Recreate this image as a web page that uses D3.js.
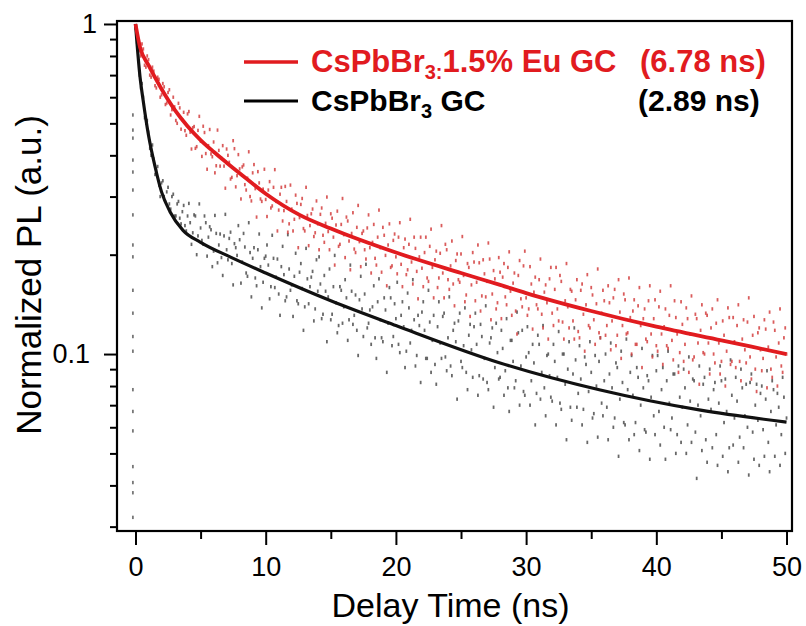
<!DOCTYPE html>
<html>
<head>
<meta charset="utf-8">
<script src="https://cdn.jsdelivr.net/npm/d3@7"></script>
<style>
  body { margin: 0; background: #fff; }
  svg { display: block; font-family: "Liberation Sans", Arial, sans-serif; }
</style>
</head>
<body>
<svg id="chart" width="806" height="626"></svg>
<script>
// time grid of the measured decays (ns): channel A at 0, 0.2, 0.4 ... channel B at 0.1, 0.3 ...
const tStep = 0.2, tStartA = 0, tStartB = 0.1;

// CsPbBr3:1.5% Eu GC, measured PL (normalized)
const euPL_A = [
  0.98, 0.90, 0.80, 0.84, 0.74, 0.78, 0.69, 0.72, 0.64, 0.68, 0.61,
  0.645, 0.576, 0.632, 0.55, 0.561, 0.50, 0.557, 0.513, 0.475, 0.534,
  0.47, 0.485, 0.42, 0.476, 0.441, 0.49, 0.405, 0.428, 0.404, 0.439,
  0.372, 0.414, 0.392, 0.371, 0.418, 0.381, 0.343, 0.419, 0.347, 0.364,
  0.369, 0.326, 0.341, 0.30, 0.354, 0.317, 0.357, 0.295, 0.316, 0.294,
  0.314, 0.277, 0.32, 0.29, 0.273, 0.32, 0.272, 0.29, 0.248, 0.275,
  0.256, 0.286, 0.259, 0.296, 0.236, 0.263, 0.245, 0.275, 0.233, 0.248,
  0.265, 0.229, 0.249, 0.235, 0.266, 0.226, 0.246, 0.212, 0.247, 0.23,
  0.26, 0.22, 0.232, 0.208, 0.242, 0.219, 0.232, 0.207, 0.241, 0.21,
  0.218, 0.195, 0.226, 0.21, 0.242, 0.199, 0.214, 0.183, 0.221, 0.197,
  0.226, 0.187, 0.21, 0.174, 0.215, 0.19, 0.226, 0.178, 0.197, 0.182,
  0.203, 0.17, 0.212, 0.183, 0.193, 0.159, 0.202, 0.176, 0.215, 0.168,
  0.185, 0.163, 0.192, 0.168, 0.201, 0.173, 0.151, 0.183, 0.162, 0.19,
  0.165, 0.189, 0.15, 0.175, 0.166, 0.194, 0.152, 0.169, 0.143, 0.177,
  0.171, 0.149, 0.183, 0.155, 0.164, 0.135, 0.173, 0.147, 0.185, 0.148,
  0.137, 0.163, 0.154, 0.141, 0.168, 0.132, 0.154, 0.143, 0.169, 0.133,
  0.157, 0.137, 0.173, 0.125, 0.145, 0.139, 0.157, 0.126, 0.146, 0.117,
  0.156, 0.132, 0.141, 0.122, 0.159, 0.127, 0.142, 0.116, 0.133, 0.145,
  0.122, 0.143, 0.126, 0.157, 0.114, 0.134, 0.122, 0.146, 0.116, 0.129,
  0.135, 0.107, 0.14, 0.122, 0.128, 0.111, 0.145, 0.115, 0.128, 0.106,
  0.139, 0.115, 0.121, 0.106, 0.131, 0.11, 0.145, 0.115, 0.101, 0.123,
  0.107, 0.128, 0.115, 0.096, 0.132, 0.108, 0.118, 0.101, 0.133, 0.108,
  0.12, 0.1, 0.124, 0.108, 0.095, 0.114, 0.102, 0.129, 0.095, 0.109,
  0.122, 0.095, 0.111, 0.103, 0.125, 0.098, 0.114, 0.09, 0.116, 0.103,
  0.097, 0.119, 0.105, 0.09, 0.125, 0.098, 0.108, 0.092, 0.112, 0.1
];
const euPL_B = [
  0.93, 0.83, 0.87, 0.75, 0.80, 0.70, 0.74, 0.65, 0.69, 0.60,
  0.66, 0.57, 0.62, 0.53, 0.60, 0.51, 0.575, 0.48, 0.54, 0.46,
  0.543, 0.418, 0.489, 0.425, 0.525, 0.397, 0.469, 0.363, 0.479, 0.396,
  0.354, 0.477, 0.371, 0.428, 0.318, 0.40, 0.339, 0.443, 0.321, 0.402,
  0.295, 0.374, 0.314, 0.41, 0.291, 0.375, 0.26, 0.33, 0.29, 0.363,
  0.261, 0.333, 0.281, 0.362, 0.236, 0.305, 0.253, 0.322, 0.234, 0.325,
  0.236, 0.303, 0.21, 0.284, 0.24, 0.32, 0.213, 0.266, 0.227, 0.291,
  0.207, 0.277, 0.218, 0.299, 0.207, 0.258, 0.186, 0.271, 0.215, 0.296,
  0.196, 0.253, 0.18, 0.268, 0.203, 0.282, 0.184, 0.236, 0.194, 0.264,
  0.176, 0.247, 0.186, 0.273, 0.177, 0.229, 0.161, 0.248, 0.185, 0.231,
  0.175, 0.25, 0.16, 0.223, 0.18, 0.256, 0.163, 0.209, 0.147, 0.226,
  0.16, 0.226, 0.166, 0.239, 0.148, 0.205, 0.17, 0.245, 0.148, 0.207,
  0.157, 0.22, 0.14, 0.201, 0.165, 0.227, 0.144, 0.188, 0.13, 0.203,
  0.145, 0.214, 0.135, 0.193, 0.149, 0.217, 0.127, 0.179, 0.137, 0.196,
  0.128, 0.188, 0.141, 0.204, 0.131, 0.176, 0.115, 0.192, 0.139, 0.205,
  0.131, 0.184, 0.119, 0.171, 0.137, 0.194, 0.12, 0.162, 0.111, 0.183,
  0.122, 0.183, 0.126, 0.166, 0.111, 0.188, 0.12, 0.155, 0.111, 0.168,
  0.112, 0.163, 0.102, 0.174, 0.12, 0.151, 0.107, 0.181, 0.112, 0.156,
  0.114, 0.161, 0.103, 0.148, 0.106, 0.168, 0.097, 0.152, 0.115, 0.17,
  0.10, 0.146, 0.107, 0.159, 0.091, 0.137, 0.109, 0.161, 0.098, 0.146,
  0.102, 0.155, 0.093, 0.137, 0.104, 0.161, 0.096, 0.129, 0.088, 0.144,
  0.095, 0.138, 0.088, 0.15, 0.098, 0.128, 0.081, 0.141, 0.1, 0.131,
  0.087, 0.137, 0.094, 0.146, 0.087, 0.126, 0.08, 0.138, 0.093, 0.129,
  0.091, 0.141, 0.083, 0.127, 0.094, 0.148, 0.084, 0.13, 0.077, 0.12,
  0.089, 0.127, 0.079, 0.134, 0.085, 0.118, 0.08, 0.137, 0.088, 0.12
];

// CsPbBr3 GC, measured PL (normalized)
const pristinePL_A = [
  0.97, 0.80, 0.64, 0.60, 0.50, 0.47, 0.40, 0.39, 0.36, 0.325, 0.33,
  0.30, 0.31, 0.285, 0.30, 0.262, 0.285, 0.258, 0.27, 0.245, 0.262,
  0.25, 0.233, 0.262, 0.228, 0.241, 0.215, 0.25, 0.226, 0.238, 0.205,
  0.232, 0.214, 0.196, 0.228, 0.207, 0.224, 0.188, 0.216, 0.199, 0.222,
  0.19, 0.211, 0.172, 0.203, 0.195, 0.17, 0.207, 0.184, 0.165, 0.198,
  0.186, 0.16, 0.195, 0.171, 0.152, 0.184, 0.174, 0.149, 0.181, 0.162,
  0.172, 0.145, 0.177, 0.158, 0.139, 0.169, 0.16, 0.178, 0.137, 0.155,
  0.163, 0.132, 0.155, 0.149, 0.127, 0.16, 0.143, 0.122, 0.156, 0.139,
  0.148, 0.127, 0.155, 0.131, 0.118, 0.146, 0.137, 0.152, 0.12, 0.136,
  0.139, 0.112, 0.144, 0.127, 0.109, 0.136, 0.124, 0.148, 0.113, 0.128,
  0.107, 0.131, 0.121, 0.102, 0.138, 0.118, 0.127, 0.099, 0.122, 0.134,
  0.118, 0.097, 0.125, 0.11, 0.093, 0.121, 0.108, 0.13, 0.098, 0.112,
  0.092, 0.118, 0.109, 0.126, 0.095, 0.106, 0.088, 0.114, 0.103, 0.121,
  0.107, 0.086, 0.113, 0.097, 0.082, 0.108, 0.12, 0.091, 0.101, 0.085,
  0.104, 0.089, 0.079, 0.11, 0.095, 0.083, 0.116, 0.092, 0.077, 0.098,
  0.101, 0.083, 0.094, 0.076, 0.107, 0.088, 0.079, 0.099, 0.086, 0.072,
  0.095, 0.085, 0.071, 0.1, 0.081, 0.09, 0.069, 0.087, 0.096, 0.076,
  0.084, 0.068, 0.093, 0.077, 0.088, 0.066, 0.08, 0.095, 0.071, 0.083,
  0.069, 0.087, 0.079, 0.064, 0.091, 0.073, 0.082, 0.061, 0.078, 0.088,
  0.075, 0.062, 0.085, 0.07, 0.079, 0.058, 0.083, 0.074, 0.065, 0.089,
  0.067, 0.078, 0.06, 0.083, 0.071, 0.064, 0.087, 0.057, 0.074, 0.069,
  0.079, 0.061, 0.072, 0.084, 0.058, 0.07, 0.065, 0.081, 0.055, 0.073,
  0.068, 0.078, 0.057, 0.071, 0.083, 0.062, 0.067, 0.052, 0.075, 0.064,
  0.072, 0.056, 0.079, 0.065, 0.06, 0.082, 0.058, 0.07, 0.063, 0.076,
  0.059, 0.073, 0.054, 0.067, 0.078, 0.061, 0.069, 0.057, 0.074, 0.064
];
const pristinePL_B = [
  0.88, 0.70, 0.66, 0.52, 0.51, 0.42, 0.43, 0.35, 0.37, 0.30,
  0.335, 0.29, 0.32, 0.275, 0.305, 0.262, 0.29, 0.248, 0.282, 0.236,
  0.286, 0.215, 0.264, 0.20, 0.285, 0.221, 0.262, 0.198, 0.243, 0.184,
  0.263, 0.189, 0.231, 0.173, 0.265, 0.193, 0.234, 0.162, 0.21, 0.245,
  0.164, 0.232, 0.176, 0.25, 0.149, 0.21, 0.161, 0.231, 0.138, 0.195,
  0.214, 0.147, 0.229, 0.159, 0.194, 0.131, 0.212, 0.145, 0.23, 0.156,
  0.13, 0.202, 0.142, 0.188, 0.118, 0.209, 0.142, 0.171, 0.126, 0.193,
  0.197, 0.128, 0.173, 0.109, 0.181, 0.132, 0.199, 0.116, 0.16, 0.124,
  0.168, 0.11, 0.186, 0.123, 0.151, 0.099, 0.172, 0.113, 0.187, 0.124,
  0.107, 0.161, 0.097, 0.169, 0.112, 0.148, 0.088, 0.159, 0.106, 0.142,
  0.165, 0.101, 0.144, 0.091, 0.153, 0.108, 0.168, 0.092, 0.131, 0.082,
  0.144, 0.097, 0.156, 0.088, 0.131, 0.081, 0.144, 0.097, 0.133, 0.089,
  0.149, 0.086, 0.124, 0.073, 0.133, 0.091, 0.138, 0.078, 0.123, 0.085,
  0.133, 0.075, 0.123, 0.084, 0.14, 0.078, 0.112, 0.069, 0.124, 0.084,
  0.118, 0.075, 0.128, 0.067, 0.11, 0.079, 0.134, 0.07, 0.118, 0.075,
  0.121, 0.07, 0.107, 0.061, 0.114, 0.073, 0.122, 0.065, 0.10, 0.074,
  0.107, 0.061, 0.117, 0.068, 0.10, 0.055, 0.109, 0.063, 0.12, 0.069,
  0.106, 0.061, 0.098, 0.054, 0.109, 0.064, 0.099, 0.056, 0.112, 0.065,
  0.10, 0.055, 0.108, 0.06, 0.094, 0.049, 0.102, 0.062, 0.111, 0.055,
  0.099, 0.057, 0.091, 0.051, 0.104, 0.059, 0.086, 0.048, 0.099, 0.057,
  0.099, 0.053, 0.091, 0.048, 0.102, 0.059, 0.087, 0.05, 0.092, 0.054,
  0.09, 0.05, 0.098, 0.054, 0.083, 0.042, 0.092, 0.051, 0.085, 0.047,
  0.09, 0.052, 0.082, 0.046, 0.092, 0.049, 0.084, 0.044, 0.096, 0.053,
  0.085, 0.047, 0.09, 0.052, 0.081, 0.043, 0.087, 0.048, 0.081, 0.046,
  0.08, 0.049, 0.089, 0.044, 0.083, 0.049, 0.076, 0.046, 0.085, 0.05
];

// rising edge just before t = 0
const riseTime = -0.2;
const risePL = [0.53, 0.477, 0.451, 0.387, 0.356, 0.314, 0.264, 0.214, 0.197, 0.156,
  0.133, 0.113, 0.102, 0.078, 0.067, 0.0585, 0.0456, 0.0408, 0.038, 0.032];

// fitted decays
const euFitT = [0, 0.35, 1, 2, 3, 4, 5, 6, 7, 8, 10, 12.6, 15, 20, 25, 28, 30, 35, 40, 45, 50];
const euFitPL = [1.0, 0.85, 0.75, 0.635, 0.55, 0.49, 0.445, 0.41, 0.38, 0.353, 0.306, 0.264,
  0.24, 0.203, 0.176, 0.162, 0.153, 0.135, 0.121, 0.11, 0.1];
const pristineFitT = [0, 0.35, 0.58, 1, 1.5, 2, 2.65, 3.65, 5, 7.26, 10, 15, 20, 28, 35.7, 43.4, 50];
const pristineFitPL = [1.0, 0.69, 0.59, 0.46, 0.37, 0.31, 0.27, 0.237, 0.218, 0.197, 0.176,
  0.145, 0.122, 0.094, 0.0778, 0.0676, 0.0622];

// axis ticks
const xMajor = [0, 10, 20, 30, 40, 50];
const xMinor = [5, 15, 25, 35, 45];
const yMajor = [1, 0.1];
const yMinor = [0.9, 0.8, 0.7, 0.6, 0.5, 0.4, 0.3, 0.2, 0.09, 0.08, 0.07, 0.06, 0.05, 0.04, 0.03];

const red = "#e11b1f";

var svg = d3.select("#chart");
var plotL = 117, plotR = 792, plotT = 21, plotB = 531;

var x = d3.scaleLinear().domain([-1.42, 50.42]).range([plotL, plotR]);
var y = d3.scaleLog().domain([0.0291, 1.021]).range([plotB, plotT]);

function toPoints(vals, t0) {
  return vals.map(function (v, i) { return { t: t0 + i * tStep, v: v }; });
}
function zip(ts, vs) {
  return ts.map(function (t, i) { return { t: t, v: vs[i] }; });
}

// scatter of measured points (small vertical dashes, like the instrument export)
function drawDots(pts, color, op) {
  svg.append("g")
    .selectAll("rect")
    .data(pts)
    .enter()
    .append("rect")
    .attr("x", function (d) { return x(d.t) - 0.9; })
    .attr("y", function (d) { return y(d.v) - 1.7; })
    .attr("width", 1.8)
    .attr("height", 3.4)
    .attr("fill", color)
    .attr("opacity", op);
}
drawDots(risePL.map(function (v) { return { t: riseTime, v: v }; }), "#555", 0.8);
drawDots(toPoints(pristinePL_A, tStartA).concat(toPoints(pristinePL_B, tStartB)), "#4d4d4d", 0.85);
drawDots(toPoints(euPL_A, tStartA).concat(toPoints(euPL_B, tStartB)), "#d43f3f", 0.85);

// fit lines
var line = d3.line()
  .x(function (d) { return x(d.t); })
  .y(function (d) { return y(d.v); })
  .curve(d3.curveMonotoneX);

svg.append("path")
  .datum(zip(pristineFitT, pristineFitPL))
  .attr("d", line)
  .attr("fill", "none")
  .attr("stroke", "#111")
  .attr("stroke-width", 3.2);

svg.append("path")
  .datum(zip(euFitT, euFitPL))
  .attr("d", line)
  .attr("fill", "none")
  .attr("stroke", red)
  .attr("stroke-width", 3.8);

// axes
function styleAxis(g) {
  g.select(".domain").remove();
  g.selectAll("line").attr("stroke", "#000").attr("stroke-width", 2);
  g.selectAll("text").attr("fill", "#000").style("font-family", "'Liberation Sans', Arial, sans-serif");
}

svg.append("g")
  .attr("transform", "translate(0," + plotB + ")")
  .call(d3.axisBottom(x).tickValues(xMajor).tickSize(14).tickPadding(12).tickFormat(d3.format("d")))
  .call(styleAxis)
  .selectAll("text").style("font-size", "27px");

svg.append("g")
  .attr("transform", "translate(0," + plotB + ")")
  .call(d3.axisBottom(x).tickValues(xMinor).tickSize(8).tickFormat(""))
  .call(styleAxis);

svg.append("g")
  .attr("transform", "translate(" + plotL + ",0)")
  .call(d3.axisLeft(y).tickValues(yMajor).tickSize(13).tickPadding(14).tickFormat(function (d) { return d === 1 ? "1" : "0.1"; }))
  .call(styleAxis)
  .selectAll("text")
  .style("font-size", "27px")
  .attr("dx", function (d) { return d === 1 ? 7 : 0; });

svg.append("g")
  .attr("transform", "translate(" + plotL + ",0)")
  .call(d3.axisLeft(y).tickValues(yMinor).tickSize(7).tickFormat(""))
  .call(styleAxis);

// frame
svg.append("rect")
  .attr("x", plotL).attr("y", plotT)
  .attr("width", plotR - plotL).attr("height", plotB - plotT)
  .attr("fill", "none").attr("stroke", "#000").attr("stroke-width", 2.2);

// axis titles
svg.append("text")
  .attr("x", (plotL + plotR) / 2 - 4)
  .attr("y", 617)
  .attr("text-anchor", "middle")
  .style("font-size", "34px")
  .text("Delay Time (ns)");

svg.append("text")
  .attr("transform", "translate(41,275) rotate(-90)")
  .attr("text-anchor", "middle")
  .style("font-size", "35px")
  .text("Normalized PL (a.u.)");

// legend
var legend = svg.append("g").style("font-weight", "bold");

legend.append("line")
  .attr("x1", 244).attr("x2", 298).attr("y1", 62).attr("y2", 62)
  .attr("stroke", red).attr("stroke-width", 3.5);
var t1 = legend.append("text").attr("x", 311).attr("y", 72).attr("fill", red).style("font-size", "31px");
t1.append("tspan").text("CsPbBr");
t1.append("tspan").attr("dy", 7).style("font-size", "20px").text("3:");
t1.append("tspan").attr("dy", -7).text("1.5% Eu GC");
legend.append("text").attr("x", 640).attr("y", 72).attr("fill", red).style("font-size", "31px").text("(6.78 ns)");

legend.append("line")
  .attr("x1", 244).attr("x2", 298).attr("y1", 101).attr("y2", 101)
  .attr("stroke", "#000").attr("stroke-width", 3);
var t2 = legend.append("text").attr("x", 311).attr("y", 111).attr("fill", "#000").style("font-size", "30px");
t2.append("tspan").text("CsPbBr");
t2.append("tspan").attr("dy", 7).style("font-size", "20px").text("3");
t2.append("tspan").attr("dy", -7).text(" GC");
legend.append("text").attr("x", 638).attr("y", 111).attr("fill", "#000").style("font-size", "30px").text("(2.89 ns)");
</script>
</body>
</html>
